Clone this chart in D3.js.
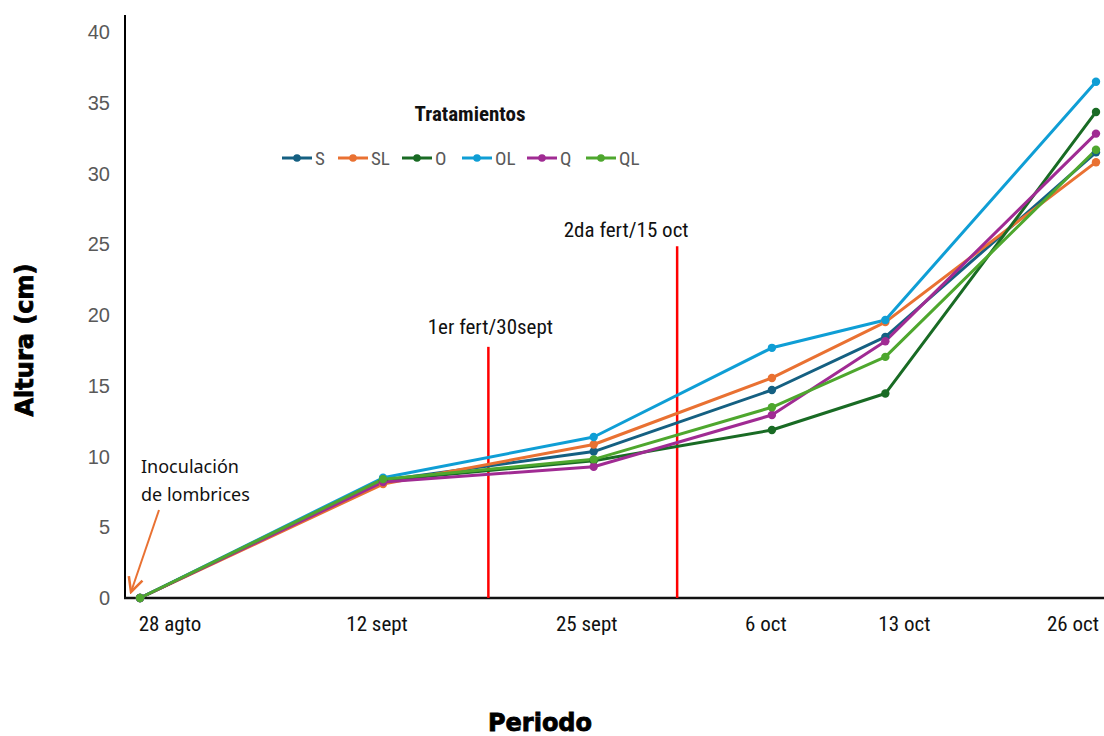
<!DOCTYPE html>
<html>
<head>
<meta charset="utf-8">
<script src="https://cdn.jsdelivr.net/npm/d3@7"></script>
<style>
  html, body { margin: 0; padding: 0; background: #fff; }
  svg { display: block; }
</style>
</head>
<body>
<svg id="chart" width="1104" height="736"></svg>
<script>
// Sampling dates and days elapsed since inoculation
const periodLabels = ["28 agto", "12 sept", "25 sept", "6 oct", "13 oct", "26 oct"];
const periodDays = [0, 15, 28, 39, 46, 59];

// Plant height (cm) per treatment
const seriesNames = ["S", "SL", "O", "OL", "Q", "QL"];
const valuesS  = [0, 8.3, 10.35, 14.7, 18.45, 31.5];
const valuesSL = [0, 8.05, 10.85, 15.55, 19.5, 30.8];
const valuesO  = [0, 8.3, 9.7, 11.87, 14.45, 34.35];
const valuesOL = [0, 8.5, 11.38, 17.68, 19.65, 36.48];
const valuesQ  = [0, 8.2, 9.28, 12.93, 18.15, 32.82];
const valuesQL = [0, 8.4, 9.8, 13.48, 17.04, 31.68];

// Fertilization markers: day position, bar height, caption
const fertDays = [21.5, 33.15];
const fertHeights = [17.75, 24.85];
const fertLabels = ["1er fert/30sept", "2da fert/15 oct"];

const yTicks = [0, 5, 10, 15, 20, 25, 30, 35, 40];

const colors = ["#156082", "#E97132", "#196B24", "#0F9ED5", "#A02B93", "#4EA72E"];
const series = seriesNames.map((name, i) => ({
  name,
  color: colors[i],
  values: [valuesS, valuesSL, valuesO, valuesOL, valuesQ, valuesQL][i]
}));

const svg = d3.select("#chart");
const narrow = "'Liberation Sans Narrow', 'Arial Narrow', 'Roboto Condensed', sans-serif";

const x = d3.scaleLinear().domain([0, 59]).range([140, 1096]);
const y = d3.scaleLinear().domain([0, 40]).range([598, 32]);

// Y tick labels (no tick marks)
svg.append("g").selectAll("text")
  .data(yTicks).join("text")
  .attr("x", 110).attr("y", d => y(d))
  .attr("dy", "0.36em")
  .attr("text-anchor", "end")
  .attr("font-family", "'Liberation Sans', Arial, sans-serif")
  .attr("font-size", 20)
  .attr("fill", "#595959")
  .text(d => d);

// Axis lines
svg.append("line")
  .attr("x1", 125).attr("x2", 125).attr("y1", 15).attr("y2", y(0) + 1)
  .attr("stroke", "#000").attr("stroke-width", 2);
svg.append("line")
  .attr("x1", 124).attr("x2", 1104).attr("y1", y(0)).attr("y2", y(0))
  .attr("stroke", "#111").attr("stroke-width", 2.5);

// X category labels, nudged slightly from their sampling position
const labelNudge = [30, -6, -7, -6, 19, -23];
svg.append("g").selectAll("text")
  .data(periodLabels).join("text")
  .attr("x", (d, i) => x(periodDays[i]) + labelNudge[i])
  .attr("y", 631)
  .attr("text-anchor", "middle")
  .attr("font-family", narrow)
  .attr("font-size", 21)
  .attr("fill", "#111")
  .text(d => d);

// Fertilization bars
svg.append("g").selectAll("line")
  .data(fertDays).join("line")
  .attr("x1", d => x(d)).attr("x2", d => x(d))
  .attr("y1", y(0)).attr("y2", (d, i) => y(fertHeights[i]))
  .attr("stroke", "#FF0000").attr("stroke-width", 2.5);

const fertLabelDx = [2, -51];
const fertLabelDy = [-13, -9];
svg.append("g").selectAll("text")
  .data(fertLabels).join("text")
  .attr("x", (d, i) => x(fertDays[i]) + fertLabelDx[i])
  .attr("y", (d, i) => y(fertHeights[i]) + fertLabelDy[i])
  .attr("text-anchor", "middle")
  .attr("font-family", narrow)
  .attr("font-size", 21)
  .attr("fill", "#111")
  .text(d => d);

// Series lines and markers
const line = d3.line()
  .x((d, i) => x(periodDays[i]))
  .y(d => y(d));

const g = svg.append("g");
series.forEach(s => {
  g.append("path")
    .datum(s.values)
    .attr("d", line)
    .attr("fill", "none")
    .attr("stroke", s.color)
    .attr("stroke-width", 3)
    .attr("stroke-linejoin", "round");
});
series.forEach(s => {
  g.append("g").selectAll("circle")
    .data(s.values).join("circle")
    .attr("cx", (d, i) => x(periodDays[i]))
    .attr("cy", d => y(d))
    .attr("r", 4.2)
    .attr("fill", s.color);
});

// Legend
svg.append("text")
  .attr("x", 470).attr("y", 121)
  .attr("text-anchor", "middle")
  .attr("font-family", narrow)
  .attr("font-weight", "bold")
  .attr("font-size", 21)
  .attr("fill", "#111")
  .text("Tratamientos");

const legendX = [282, 338, 402, 462, 527, 586];
const leg = svg.append("g").selectAll("g")
  .data(series).join("g")
  .attr("transform", (d, i) => `translate(${legendX[i]},158)`);
leg.append("line")
  .attr("x1", 0).attr("x2", 30).attr("y1", 0).attr("y2", 0)
  .attr("stroke", d => d.color).attr("stroke-width", 3);
leg.append("circle")
  .attr("cx", 15).attr("cy", 0).attr("r", 3.8)
  .attr("fill", d => d.color);
leg.append("text")
  .attr("x", 33).attr("y", 0).attr("dy", "0.36em")
  .attr("font-family", narrow)
  .attr("font-size", 19)
  .attr("fill", "#595959")
  .text(d => d.name);

// Inoculation annotation with arrow
svg.append("defs").append("marker")
  .attr("id", "arrowhead")
  .attr("viewBox", "0 0 10 10")
  .attr("refX", 9).attr("refY", 5)
  .attr("markerWidth", 9).attr("markerHeight", 9)
  .attr("orient", "auto")
  .append("path")
  .attr("d", "M1,1 L9,5 L1,9")
  .attr("fill", "none")
  .attr("stroke", "#E97132")
  .attr("stroke-width", 1.4);

svg.append("line")
  .attr("x1", 159).attr("y1", 510)
  .attr("x2", 131).attr("y2", 592)
  .attr("stroke", "#E97132").attr("stroke-width", 2)
  .attr("marker-end", "url(#arrowhead)");

const ann = svg.append("text")
  .attr("font-family", "'Noto Sans', 'Open Sans', sans-serif")
  .attr("font-size", 18)
  .attr("fill", "#111");
ann.append("tspan").attr("x", 141).attr("y", 473).text("Inoculación");
ann.append("tspan").attr("x", 141).attr("y", 501).text("de lombrices");

// Axis titles
svg.append("text")
  .attr("x", 540).attr("y", 731)
  .attr("text-anchor", "middle")
  .attr("font-family", "'DejaVu Sans', sans-serif")
  .attr("font-weight", "bold")
  .attr("font-size", 24)
  .attr("stroke", "#000").attr("stroke-width", 0.8)
  .attr("fill", "#000")
  .text("Periodo");

svg.append("text")
  .attr("transform", "translate(33,340) rotate(-90)")
  .attr("text-anchor", "middle")
  .attr("font-family", "'DejaVu Sans', sans-serif")
  .attr("font-weight", "bold")
  .attr("font-size", 24)
  .attr("stroke", "#000").attr("stroke-width", 0.8)
  .attr("fill", "#000")
  .text("Altura (cm)");
</script>
</body>
</html>
